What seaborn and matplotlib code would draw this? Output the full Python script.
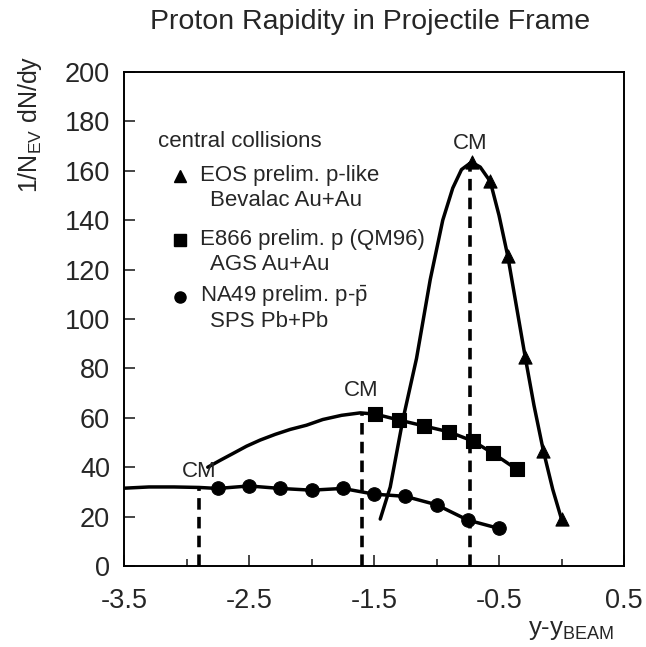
import matplotlib
matplotlib.use("Agg")
import matplotlib.pyplot as plt
import seaborn as sns

# ---- data ----
eos_x = [-0.72, -0.57, -0.43, -0.29, -0.145, 0.0]
eos_y = [163.5, 155.7, 125.5, 84.5, 46.6, 19.0]
eos_curve_x = [-1.45, -1.37, -1.27, -1.16, -1.05, -0.95, -0.87, -0.80, -0.72, -0.65, -0.57,
               -0.50, -0.43, -0.36, -0.29, -0.22, -0.145, -0.07, 0.0]
eos_curve_y = [19, 32, 59, 84, 116, 140, 153, 160.5, 163.5, 161.5, 155.7,
               142, 125.5, 105, 84.5, 65, 46.6, 31, 19.0]

e866_x = [-1.49, -1.30, -1.10, -0.90, -0.71, -0.55, -0.36]
e866_y = [61.5, 59.1, 56.7, 54.3, 50.6, 45.7, 39.2]
e866_curve_x = [-2.83, -2.73, -2.63, -2.52, -2.41, -2.29, -2.17, -2.04, -1.91, -1.76, -1.61, -1.49]
e866_curve_y = [40.0, 42.8, 45.5, 48.5, 51.0, 53.3, 55.3, 57.0, 59.3, 61.0, 62.0, 61.5]

na49_x = [-2.75, -2.5, -2.25, -2.0, -1.75, -1.5, -1.25, -1.0, -0.75, -0.5]
na49_y = [31.4, 32.4, 31.4, 30.7, 31.4, 29.1, 28.2, 24.8, 18.6, 15.2]
na49_curve_x = [-3.5, -3.3, -3.1, -2.9, -2.75]
na49_curve_y = [31.5, 32.0, 32.0, 31.8, 31.4]

cm_x = [-0.73, -1.60, -2.90]
cm_top = [163.5, 61.5, 31.8]
cm_label_y = [167.0, 67.0, 34.0]

x_ticks = [-3.5, -2.5, -1.5, -0.5, 0.5]
y_ticks = [0, 20, 40, 60, 80, 100, 120, 140, 160, 180, 200]

legend_lines = [
    ("^", "EOS prelim. p-like", "Bevalac Au+Au"),
    ("s", "E866 prelim. p (QM96)", "AGS Au+Au"),
    ("o", r"NA49 prelim. p-$\bar{p}$", "SPS Pb+Pb"),
]

# ---- style ----
sns.set_theme(style="ticks")
plt.rcParams["font.family"] = ["Liberation Sans", "DejaVu Sans"]
plt.rcParams["mathtext.default"] = "regular"

fig = plt.figure(figsize=(6.46, 6.47), dpi=100)
ax = fig.add_axes([124 / 646, 1 - 566 / 647, 500 / 646, 494 / 647])

lw = 2.5
# curves
sns.lineplot(x=eos_curve_x, y=eos_curve_y, ax=ax, color="black", lw=lw, sort=False)
sns.lineplot(x=e866_curve_x + e866_x, y=e866_curve_y + e866_y, ax=ax, color="black", lw=lw, sort=False)
sns.lineplot(x=na49_curve_x + na49_x, y=na49_curve_y + na49_y, ax=ax, color="black", lw=lw, sort=False)

# markers
sns.scatterplot(x=eos_x, y=eos_y, ax=ax, marker="^", s=90, color="black", edgecolor="black", zorder=5)
sns.scatterplot(x=e866_x, y=e866_y, ax=ax, marker="s", s=95, color="black", edgecolor="black", zorder=5)
sns.scatterplot(x=na49_x, y=na49_y, ax=ax, marker="o", s=95, color="black", edgecolor="black", zorder=5)

# CM dashed lines
for cx, ct, cy in zip(cm_x, cm_top, cm_label_y):
    ax.plot([cx, cx], [0, ct], color="black", lw=2.6, ls=(0, (3.2, 2.0)))
    ax.text(cx, cy, "CM", ha="center", va="bottom", fontsize=16)

ax.set_xlim(-3.5, 0.5)
ax.set_ylim(0, 200)
ax.set_xticks(x_ticks)
ax.set_xticklabels([f"{t:g}" for t in x_ticks])
ax.set_xticks([-3.0, -2.0, -1.0, 0.0], minor=True)
ax.set_yticks(y_ticks)
ax.tick_params(axis="both", which="major", direction="in", length=8, width=1.2,
               labelsize=19.5, top=False, right=False)
ax.tick_params(axis="x", which="major", pad=16)
ax.tick_params(axis="y", which="major", pad=10)
ax.tick_params(axis="x", which="minor", direction="in", length=5, width=1.2, top=False)
for s in ax.spines.values():
    s.set_linewidth(1.4)
    s.set_color("black")

# axis labels
fig.text(30 / 646, 1 - 124 / 647, r"1/N$_{EV}$ dN/dy", rotation=90, ha="center", va="center", fontsize=18)
fig.text(571 / 646, 1 - 630 / 647, r"y-y$_{BEAM}$", ha="center", va="center", fontsize=18.5)
fig.text(370 / 646, 1 - 22 / 647, "Proton Rapidity in Projectile Frame", ha="center", va="center", fontsize=20.5)

# legend text block
ax.text(-3.23, 172, "central collisions", fontsize=16, va="center", ha="left")
rows_y = [(158, 148), (132, 122), (109, 99)]
for (mk, l1, l2), (y1, y2) in zip(legend_lines, rows_y):
    ax.plot([-3.05], [y1], marker=mk, color="black", ms=8, ls="none")
    ax.text(-2.89, y1, l1, fontsize=16, va="center", ha="left")
    ax.text(-2.81, y2, l2, fontsize=16, va="center", ha="left")

fig.savefig("out.png", dpi=100)
